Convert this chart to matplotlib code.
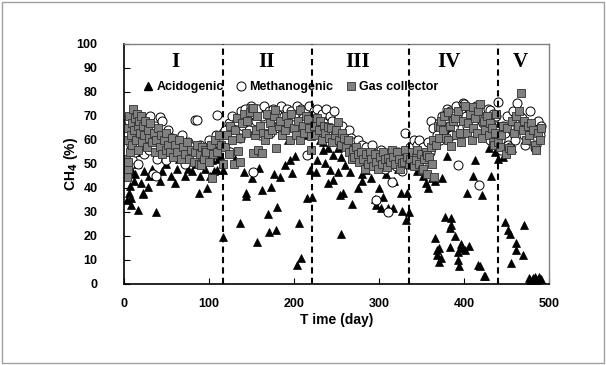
import matplotlib.pyplot as plt
from matplotlib.patches import Rectangle
from matplotlib.lines import Line2D

plt.rcParams['font.family'] = ['Liberation Sans', 'DejaVu Sans']
plt.rcParams['font.weight'] = 'bold'

# acidogenic reactor (day, CH4 %)
acid_day = [3, 4, 5, 6, 7, 8, 8, 10, 12, 13, 14, 15, 17, 18, 20, 22, 22, 24, 28, 30,
            33, 36, 38, 42, 45, 50, 55, 58, 60, 62, 65, 69, 72, 75, 80, 85, 88, 89, 92, 95,
            98, 101, 103, 106, 109, 111, 113, 116, 117,
            120, 124, 130, 137, 141, 144, 144, 150, 156, 159, 162, 169, 170, 173, 176, 179,
            180, 184, 189, 193, 195, 198, 201, 203, 206, 208, 212, 215, 219, 221,
            226, 227, 230, 234, 234, 236, 240, 240, 242, 246, 246, 250, 252, 252, 254, 255,
            255, 258, 260, 263, 266, 268, 272, 275, 280, 280, 285, 290, 295, 297, 300, 302,
            305, 308, 311, 316, 318, 322, 326, 327, 330, 332, 333, 335,
            337, 340, 343, 345, 348, 352, 355, 358, 362, 366, 366, 368, 368, 370, 371, 373,
            374, 378, 380, 381, 383, 383, 385, 385, 389, 393, 393, 394, 397, 397, 401, 403,
            406, 410, 413, 416, 419, 421, 423, 425, 429, 432, 436, 440,
            443, 446, 448, 452, 454, 455, 456, 461, 461, 469, 471, 476, 478, 481, 484, 486,
            488, 490]
acid_ch4 = [45, 35, 50, 38, 41, 36, 33, 47, 43, 46, 58, 50, 31, 55, 42, 38, 37.6, 47, 40.5, 45,
            48, 46, 30, 43, 47, 50, 45, 58, 42, 48, 52, 52.5, 45, 48, 47, 50, 38, 45, 55, 48,
            40, 45, 51.7, 47, 47.5, 52, 53.8, 47.5, 19.6,
            62, 56, 52, 25.3, 46.8, 37.8, 36.7, 44, 17.5, 48.2, 39, 29, 21.8, 40.4, 46, 22.3,
            32, 44.6, 49.6, 60, 51.7, 46.4, 53.3, 7.8, 25.4, 10.8, 62, 35.7, 47.5, 36.3,
            46.7, 51.7, 60, 59.3, 55.8, 50.4, 56.7, 42, 47.5, 43.3, 53.8, 62, 46.7, 56.7, 37, 53,
            20.8, 37.9, 49.6, 58, 46.7, 33.3, 52, 40, 45.8, 43, 47.5, 44, 35.4, 33, 40, 31.7,
            36.3, 46, 31.7, 31.7, 43, 48, 37.9, 30.4, 52, 26.7, 37.9, 30,
            55, 50, 57, 47, 52, 45, 42, 40, 44, 43, 19, 14, 12, 15, 9.2, 10.8,
            44, 28, 53.3, 73, 23.3, 15.4, 27.4, 24.6, 20, 13.3, 10, 7.5, 15, 16.7, 14.2, 37.9,
            15.8, 45, 51.7, 7.9, 7.5, 37, 3.3, 3.3, 56.7, 45, 55, 52,
            58, 53, 26, 22.5, 21, 8.6, 56.5, 17, 14, 12, 24.6, 2.4, 1.7, 2.4, 3, 1.7,
            3, 2]

# methanogenic reactor
meth_day = [2, 3, 5, 6, 8, 9, 10, 11, 12, 13, 14, 15, 16, 18, 19, 20, 22, 23, 25, 27,
            28, 30, 31, 33, 34, 35, 37, 38, 39, 40, 42, 45, 47, 48, 50, 50, 52, 55, 57, 60,
            62, 65, 68, 70, 72, 75, 78, 80, 83, 84, 86, 88, 90, 93, 95, 98, 100, 103, 105, 108,
            110, 113, 116,
            119, 121, 123, 125, 127, 130, 133, 136, 138, 140, 142, 145, 147, 149, 152, 153,
            155, 158, 160, 162, 165, 167, 170, 172, 175, 177, 180, 182, 185, 188, 190, 192,
            195, 197, 200, 203, 205, 208, 210, 213, 215, 215, 218, 220,
            223, 225, 227, 229, 231, 233, 235, 238, 240, 242, 245, 247, 250, 252, 255, 257,
            260, 263, 265, 267, 270, 272, 275, 277, 280, 282, 285, 288, 290, 292, 295, 297,
            298, 300, 302, 305, 307, 310, 311, 313, 315, 317, 320, 322, 325, 327, 330, 332, 334,
            337, 339, 341, 343, 345, 347, 349, 352, 355, 358, 360, 361, 363, 365, 368, 370,
            372, 374, 376, 378, 380, 382, 384, 385, 386, 388, 390, 392, 393, 396, 398, 399,
            400, 402, 404, 406, 407, 408, 410, 412, 414, 416, 418, 420, 422, 424, 425, 426,
            428, 430, 431, 432, 434, 436, 438, 440,
            442, 444, 446, 448, 450, 452, 454, 456, 458, 460, 462, 464, 466, 468, 470, 472,
            474, 476, 478, 480, 483, 483, 485, 487, 489, 491]
meth_ch4 = [64, 67, 62, 68, 58, 65, 52, 60, 69, 55, 63, 66, 50, 58, 70, 62, 65, 54, 68, 60,
            64, 56, 70, 62, 46, 58, 66, 45, 52, 63, 69.7, 68, 55, 62, 59, 51.7, 64, 57, 61, 55,
            60, 58, 62, 56, 50, 59, 54, 57, 52, 68.3, 68.3, 55, 58, 51.7, 56, 54, 60, 53.8, 55, 62,
            70.4, 58, 63,
            64, 60, 67, 55, 70, 62, 68, 61, 72, 66, 73, 70, 64, 74, 46.7, 71,
            68, 73, 62, 70, 74, 66, 72, 63, 73, 69, 71, 65, 74, 70, 67, 73,
            62, 72, 70, 74, 66, 73, 69, 72, 64, 53.8, 74, 68,
            72, 66, 73, 69, 64, 71, 67, 73, 63, 70, 68, 72, 65, 62, 60, 66,
            62, 58, 64, 61, 59, 56, 60, 55, 58, 53, 57, 52, 55, 58, 51, 35,
            54, 50, 56, 52, 48, 30, 54, 50, 42.6, 53, 49, 55, 51, 47, 63, 53, 50,
            57, 52, 60, 55, 58, 60, 53, 57, 52, 59, 55, 68, 65, 58, 62, 67,
            60, 70, 64, 68, 73, 66, 72, 62, 62, 70, 74, 68, 49.6, 72, 65, 75.3,
            75, 70, 66, 73, 73, 63, 71, 68, 74, 65, 41.3, 72, 67, 62, 63.5, 70,
            73, 60, 72.5, 68, 71, 64, 70, 76,
            60, 56, 66, 63, 70, 58, 57, 64, 72, 60, 75.3, 65, 70, 69, 62, 58,
            66, 60, 72, 64, 65, 56.7, 58, 68, 62, 66]

# gas collector
gas_day = [1, 2, 3, 3, 4, 5, 5, 6, 7, 8, 9, 10, 11, 12, 13, 14, 15, 16, 17, 18,
           19, 20, 21, 22, 24, 25, 27, 28, 30, 31, 33, 35, 36, 38, 40, 42, 43, 45, 47, 49,
           50, 52, 54, 56, 58, 60, 62, 65, 67, 70, 72, 74, 77, 79, 82, 84, 86, 88, 90, 91,
           92, 94, 95, 97, 100, 102, 103, 105, 107, 110, 112, 114, 116,
           119, 121, 123, 125, 127, 129, 131, 133, 134, 136, 137, 139, 141, 143, 145, 148,
           150, 152, 152, 154, 155, 157, 158, 160, 162, 164, 166, 168, 169, 172, 174, 176,
           178, 179, 182, 184, 186, 189, 191, 193, 195, 197, 200, 202, 205, 207, 207, 210,
           212, 214, 216, 218, 220, 220,
           223, 225, 227, 229, 231, 233, 235, 237, 240, 241, 243, 245, 248, 249, 252, 253,
           255, 257, 259, 261, 263, 265, 268, 269, 271, 273, 275, 277, 279, 281, 283, 285,
           287, 289, 291, 293, 295, 297, 299, 301, 303, 305, 307, 309, 311, 313, 315, 317,
           319, 321, 323, 325, 327, 329, 331, 333, 335,
           337, 339, 341, 343, 344, 345, 347, 349, 350, 352, 353, 355, 356, 357, 359, 361,
           362, 363, 365, 367, 369, 370, 372, 373, 375, 377, 379, 381, 381, 383, 385, 387,
           389, 391, 393, 395, 397, 399, 401, 403, 405, 407, 409, 410, 411, 413, 415, 417,
           419, 421, 423, 425, 427, 429, 431, 433, 434, 435, 437, 438, 440,
           442, 444, 446, 449, 451, 453, 455, 457, 459, 461, 463, 465, 467, 469, 471, 473,
           475, 477, 479, 481, 483, 485, 487, 489, 491]
gas_ch4 = [46, 52, 60, 44.7, 65, 48, 51, 70, 55, 62, 67, 58, 73, 64, 69, 60, 71, 66, 56, 68,
           63, 70, 59, 66, 62, 68, 57, 64, 61, 67, 59, 63, 55, 60, 65, 57, 62, 54, 60, 56,
           63, 58, 55, 61, 53, 58, 55, 60, 52, 57, 54, 59, 52, 56, 51, 55, 58, 50, 54, 49.6,
           57, 52, 55.8, 55, 51, 58, 44, 54, 60, 55, 62, 58, 50,
           57, 62, 54, 66, 60, 50, 64, 69, 55.4, 61, 51, 67, 71, 63, 68, 71.7,
           73.2, 73.3, 54.4, 62, 64, 70, 55.8, 66, 54.7, 63, 60, 71, 62.5, 67, 64, 70,
           72.5, 56.5, 66, 68, 62, 64, 70, 67, 60, 71, 65, 62, 68, 72.5, 60, 66,
           63, 70, 68.8, 65, 61.7, 55.8,
           66, 62, 69, 64, 68, 60, 66, 63, 65.5, 61, 65, 59, 62, 64, 67.6, 60,
           58, 63, 61, 57, 60, 55, 52, 56, 53, 57, 54, 51, 55, 52, 48, 54,
           50, 55, 52, 49, 54, 51, 48, 53, 50, 55, 52, 48.9, 52.4, 51, 56, 53,
           50, 55, 52, 48, 50.3, 51, 56, 53, 50,
           52, 55, 49, 53, 51.7, 56, 50, 54, 47.5, 48, 52, 55, 53.8, 46, 53, 57,
           50, 60, 44.7, 58, 66, 61, 65.5, 68, 64, 70, 61, 71.7, 60, 66, 57.5, 68,
           69, 62, 72, 62.8, 59, 68, 74, 63, 67, 71, 60, 73.9, 65, 69, 63, 72,
           74.9, 61, 68, 64, 70, 62, 67, 65, 59, 58, 63, 71, 59,
           57, 62, 66, 54, 65, 56.5, 56, 68, 63, 70, 66, 72, 79.5, 64, 68, 60,
           66, 62, 67, 64, 58, 56, 63, 60, 65]

phase_bounds = [117, 221, 335, 440]
phase_names = ['I', 'II', 'III', 'IV', 'V']
phase_label_x = [61, 168, 275, 382, 466]

fig = plt.figure(figsize=(6.06, 3.65), dpi=100)
ax = fig.add_axes([0.2046, 0.222, 0.7014, 0.6575])

ax.plot(acid_day, acid_ch4, ls='', marker='^', ms=5.5, mfc='black', mec='black',
        mew=0.5, label='Acidogenic')
ax.plot(meth_day, meth_ch4, ls='', marker='o', ms=6.5, mfc='white', mec='black',
        mew=0.7, label='Methanogenic')
ax.plot(gas_day, gas_ch4, ls='', marker='s', ms=5.5, mfc='#808080', mec='#303030',
        mew=0.6, label='Gas collector')

for b in phase_bounds:
    ax.axvline(b, color='black', ls=(0, (3, 2)), lw=1.5, zorder=5)
for x, name in zip(phase_label_x, phase_names):
    ax.text(x, 92.5, name, ha='center', va='center', fontsize=15,
            family='Liberation Serif', fontweight='bold')

ax.set_xlim(0, 500)
ax.set_ylim(0, 100)
ax.set_xticks(range(0, 501, 100))
ax.set_yticks(range(0, 101, 10))
ax.tick_params(direction='in', labelsize=9, length=4, width=0.8)
ax.tick_params(axis='x', pad=10)
ax.tick_params(axis='y', pad=19)
for s in ['top', 'right']:
    ax.spines[s].set_color('#808080')
    ax.spines[s].set_linewidth(1.0)
for s in ['left', 'bottom']:
    ax.spines[s].set_linewidth(1.2)

ax.set_xlabel('T ime (day)', fontsize=10, fontweight='bold', labelpad=2)
ax.set_ylabel('CH$_4$ (%)', fontsize=10, fontweight='bold')
ax.yaxis.set_label_coords(-0.104, 0.5)

handles = [
    Line2D([], [], ls='', marker='^', ms=5.5, mfc='black', mec='black'),
    Line2D([], [], ls='', marker='o', ms=6.5, mfc='white', mec='black', mew=0.7),
    Line2D([], [], ls='', marker='s', ms=5.5, mfc='#808080', mec='#303030', mew=0.6),
]
ax.legend(handles, ['Acidogenic', 'Methanogenic', 'Gas collector'], ncol=3,
          frameon=False, loc='center left', bbox_to_anchor=(0.045, 0.82),
          fontsize=9, handlelength=0.8, handletextpad=0.25, columnspacing=1.0,
          borderaxespad=0, borderpad=0)

fig.patches.append(Rectangle((0.004, 0.006), 0.992, 0.988, transform=fig.transFigure,
                             fill=False, edgecolor='#a0a0a0', lw=1.0))

fig.savefig('out.png', dpi=100)
